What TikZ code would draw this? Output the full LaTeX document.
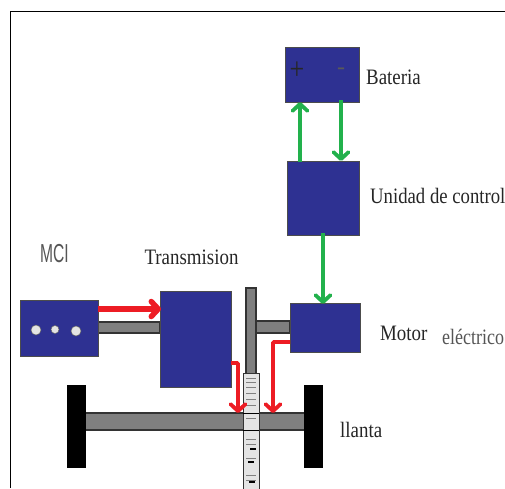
\documentclass[tikz,border=0pt]{standalone}
\usepackage{fontspec}
\setmainfont{Liberation Serif}
\newfontfamily\grayfont{Liberation Sans}
\usetikzlibrary{arrows.meta}
\definecolor{boxblue}{HTML}{2E3192}
\definecolor{shaftgray}{HTML}{7F7F7F}
\definecolor{gearfill}{HTML}{E4E4E4}
\definecolor{flowred}{HTML}{ED1C24}
\definecolor{flowgreen}{HTML}{22B14C}
\definecolor{labelgray}{HTML}{555555}
\begin{document}
\begin{tikzpicture}[x=1pt, y=-1pt,
	b/.style={rectangle, draw=black!70, line width=0.8pt, fill=boxblue, inner sep=0pt},
	s/.style={rectangle, draw=black!80, line width=1.2pt, fill=shaftgray, inner sep=0pt},
	w/.style={rectangle, fill=black, inner sep=0pt, minimum width=19pt, minimum height=83pt},
	t/.style={font=\fontsize{22}{22}\selectfont, text=black!85, inner sep=0pt, xscale=0.86},
	d/.style={circle, fill=gearfill, draw=black!60, line width=0.5pt, inner sep=0pt, minimum size=10pt},
	red/.style={draw=flowred, line width=3.8pt, rounded corners=1pt, -{Straight Barb[length=7pt, width=15pt, round]}},
	green/.style={draw=flowgreen, line width=3.8pt, -{Straight Barb[length=7pt, width=15pt, round]}}]
	\useasboundingbox (0, 0) rectangle (505, 488);
	\draw[black, line width=1.2pt] (10.5, 488) -- (10.5, 11.5) -- (505, 11.5);

	\node[s, minimum width=62pt, minimum height=11pt] (shaftmci) at (129, 327.5) {};
	\node[s, minimum width=35pt, minimum height=12pt] (shaftmotor) at (272.5, 327) {};
	\node[s, minimum width=10pt, minimum height=88pt] (shaftv) at (251, 332) {};
	\node[s, minimum width=220pt, minimum height=17pt] (axle) at (195.5, 421.5) {};

	\node[b, minimum width=74pt, minimum height=55pt] (bateria) at (322, 74.5) {};
	\node[b, minimum width=72pt, minimum height=74pt] (unidad) at (323, 198) {};
	\node[b, minimum width=70pt, minimum height=49pt] (motor) at (325, 327.5) {};
	\node[b, minimum width=71pt, minimum height=96pt] (transmision) at (195.5, 339) {};
	\node[b, minimum width=78pt, minimum height=56pt] (mci) at (59, 328) {};

	\node[w] (wheell) at (76.5, 426.5) {};
	\node[w] (wheelr) at (313.5, 426.5) {};

	\node[rectangle, draw=black!80, line width=0.8pt, fill=gearfill, inner sep=0pt, minimum width=16pt, minimum height=120pt] (gear) at (251, 433) {};
	\foreach \y in {378, 382, 387, 393, 399, 405, 418, 439, 444, 458, 475, 480} {
		\draw[black!50, line width=1pt] (246, \y) -- (256, \y);
	}
	\draw[black, line width=1pt] (243, 413) -- (259, 413);
	\draw[black, line width=1pt] (243, 430) -- (259, 430);
	\draw[black, line width=1.6pt] (250, 449) -- (256, 449);
	\draw[black, line width=1.6pt] (248, 462) -- (254, 462);
	\draw[black, line width=1.6pt] (249, 482) -- (255, 482);

	\node[d] (dota) at (36, 330) {};
	\node[d, minimum size=8pt] (dotb) at (55, 329.5) {};
	\node[d] (dotc) at (76, 331) {};

	\node[inner sep=0pt, yscale=1.2, text=black!85, font=\fontsize{26}{26}\selectfont] (plus) at (297, 71) {+};
	\node[inner sep=0pt, text=black!65, font=\fontsize{24}{24}\selectfont] (minus) at (341, 71) {-};

	\node[t, anchor=west] (lbateria) at (366, 77) {Bateria};
	\node[t, anchor=west, xscale=0.99] (lunidad) at (370, 196) {Unidad de control};
	\node[t, anchor=west] (lmotor) at (380, 333) {Motor};
	\node[t, anchor=west, text=labelgray, xscale=0.95] (lelectrico) at (442, 337) {eléctrico};
	\node[t, anchor=west] (lllanta) at (340, 430) {llanta};
	\node[t, anchor=center] (ltransmision) at (191.5, 257) {Transmision};
	\node[anchor=west, inner sep=0pt, text=labelgray, xscale=0.6, font=\grayfont\fontsize{26}{26}\selectfont] (lmci) at (40, 254) {MCI};

	\coordinate (bata) at (300, 102);
	\coordinate (batb) at (341, 100);
	\coordinate (unia) at (300, 162);
	\coordinate (unib) at (341, 161);
	\coordinate (unic) at (323, 233);
	\coordinate (mota) at (323, 304);
	\coordinate (motb) at (290, 342);
	\coordinate (mcia) at (98, 309);
	\coordinate (traa) at (161, 309);
	\coordinate (trab) at (231, 363);
	\coordinate (axla) at (238, 413);
	\coordinate (axlb) at (273, 413);

	\draw[green] (unia) -- (bata);
	\draw[green] (batb) -- (unib);
	\draw[green] (unic) -- (mota);
	\draw[red, line width=5.5pt] (mcia) -- (traa);
	\draw[red] (trab) -| (axla);
	\draw[red] (motb) -| (axlb);
\end{tikzpicture}
\end{document}
